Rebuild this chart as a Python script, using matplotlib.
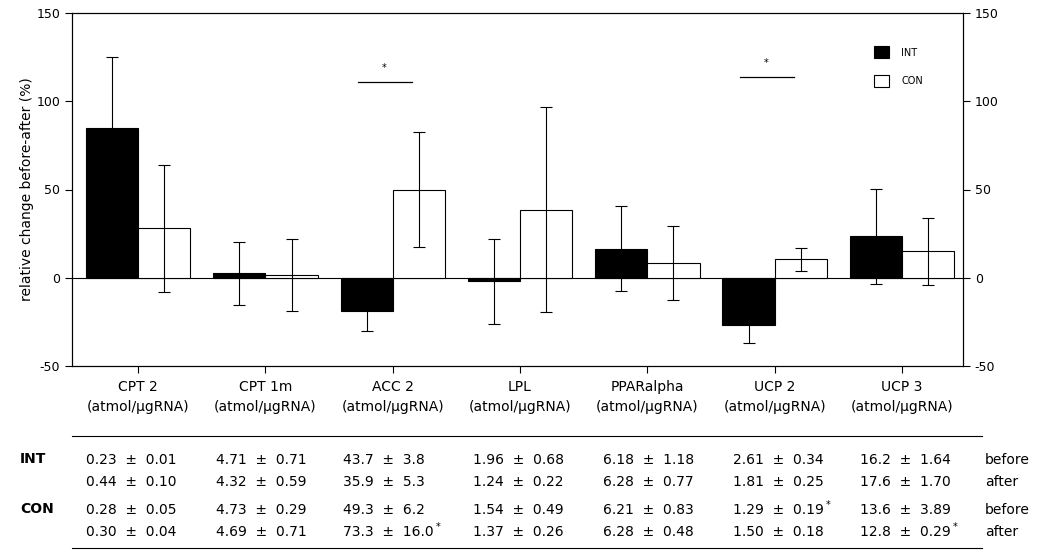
import numpy as np
import matplotlib
matplotlib.use("Agg")
import matplotlib.pyplot as plt
from matplotlib.lines import Line2D

plt.rcParams["font.family"] = ["DejaVu Sans"]
plt.rcParams["axes.unicode_minus"] = False

# ---- data ----
genes = ["CPT 2", "CPT 1m", "ACC 2", "LPL", "PPARalpha", "UCP 2", "UCP 3"]
unit = "(atmol/μgRNA)"
int_change = [85, 2.5, -19, -2, 16.5, -27, 23.5]
int_err = [40, 18, 11, 24, 24, 10, 27]
con_change = [28, 1.5, 50, 38.5, 8.5, 10.5, 15]
con_err = [36, 20.5, 32.5, 58, 21, 6.5, 19]
sig_groups = [2, 5]
sig_level = [111, 114]

int_before = ["0.23 ± 0.01", "4.71 ± 0.71", "43.7 ± 3.8", "1.96 ± 0.68",
              "6.18 ± 1.18", "2.61 ± 0.34", "16.2 ± 1.64"]
int_after = ["0.44 ± 0.10", "4.32 ± 0.59", "35.9 ± 5.3", "1.24 ± 0.22",
             "6.28 ± 0.77", "1.81 ± 0.25", "17.6 ± 1.70"]
con_before = ["0.28 ± 0.05", "4.73 ± 0.29", "49.3 ± 6.2", "1.54 ± 0.49",
              "6.21 ± 0.83", "1.29 ± 0.19*", "13.6 ± 3.89"]
con_after = ["0.30 ± 0.04", "4.69 ± 0.71", "73.3 ± 16.0*", "1.37 ± 0.26",
             "6.28 ± 0.48", "1.50 ± 0.18", "12.8 ± 0.29*"]

fig = plt.figure(figsize=(10.5, 5.52), dpi=100)
ax = fig.add_axes([72 / 1050, 1 - 366 / 552, 891 / 1050, 353 / 552])

x = np.arange(len(genes))
w = 0.41
ax.bar(x - w / 2 + 0.02, int_change, w, color="black", edgecolor="black", linewidth=0.8, zorder=2)
ax.bar(x + w / 2 + 0.02, con_change, w, color="white", edgecolor="black", linewidth=0.8, zorder=2)
ax.errorbar(x - w / 2 + 0.02, int_change, yerr=int_err, fmt="none", ecolor="black",
            elinewidth=0.8, capsize=4, capthick=0.8, zorder=3)
ax.errorbar(x + w / 2 + 0.02, con_change, yerr=con_err, fmt="none", ecolor="black",
            elinewidth=0.8, capsize=4, capthick=0.8, zorder=3)
ax.axhline(0, color="black", linewidth=0.8, zorder=1)

# significance markers
for g, lvl in zip(sig_groups, sig_level):
    ax.plot([g - 0.25, g + 0.17], [lvl, lvl], color="black", linewidth=0.9)
    ax.text(g - 0.05, lvl + 5, "*", ha="center", va="bottom", fontsize=7)

ax.set_xlim(-0.5, len(genes) - 0.5)
ax.set_ylim(-50, 150)
ax.set_yticks([-50, 0, 50, 100, 150])
ax.set_xticks(x + 0.02)
ax.set_xticklabels([g + "\n" + unit for g in genes], fontsize=10, linespacing=1.6)
ax.tick_params(axis="x", length=5, width=0.8, pad=5)
ax.tick_params(axis="y", length=5, width=0.8, labelsize=9)
ax.set_ylabel("relative change before-after (%)", fontsize=10, labelpad=2)
for s in ax.spines.values():
    s.set_linewidth(0.8)

ax2 = ax.twinx()
ax2.set_ylim(-50, 150)
ax2.set_yticks([-50, 0, 50, 100, 150])
ax2.tick_params(axis="y", length=5, width=0.8, labelsize=9)

handles = [plt.Rectangle((0, 0), 1, 1, facecolor="black", edgecolor="black", linewidth=0.8),
           plt.Rectangle((0, 0), 1, 1, facecolor="white", edgecolor="black", linewidth=0.8)]
ax.legend(handles, ["INT", "CON"], loc="upper right", bbox_to_anchor=(0.965, 0.93),
          frameon=False, fontsize=7, handlelength=1.5, handleheight=1.5,
          labelspacing=1.7, handletextpad=1.3)

# ---- table below the chart ----
tab = fig.add_axes([0, 0, 1, 1])
tab.set_xlim(0, 1050)
tab.set_ylim(552, 0)
tab.axis("off")
col_x = [86, 216, 343, 473, 603, 733, 860]
row_y = [464, 486, 514, 536]   # text baselines
rows = [int_before, int_after, con_before, con_after]
for ry, vals in zip(row_y, rows):
    for cx, v in zip(col_x, vals):
        star = v.endswith("*")
        t = tab.text(cx, ry, v.rstrip("*").replace(" ± ", "  ±  "),
                     ha="left", va="baseline", fontsize=10)
        if star:
            tab.annotate("*", xy=(1, 0.5), xycoords=t, xytext=(1.5, 0),
                         textcoords="offset points", ha="left", va="bottom", fontsize=7)
tab.text(20, row_y[0] - 1, "INT", fontsize=10, fontweight="bold", va="baseline")
tab.text(20, row_y[2] - 1, "CON", fontsize=10, fontweight="bold", va="baseline")
for ry, lab in zip(row_y, ["before", "after", "before", "after"]):
    tab.text(985, ry, lab, fontsize=10, va="baseline")
tab.add_line(Line2D([72, 982], [436, 436], color="black", linewidth=0.8))
tab.add_line(Line2D([72, 982], [548, 548], color="black", linewidth=0.8))

fig.savefig("out.png", dpi=100)
